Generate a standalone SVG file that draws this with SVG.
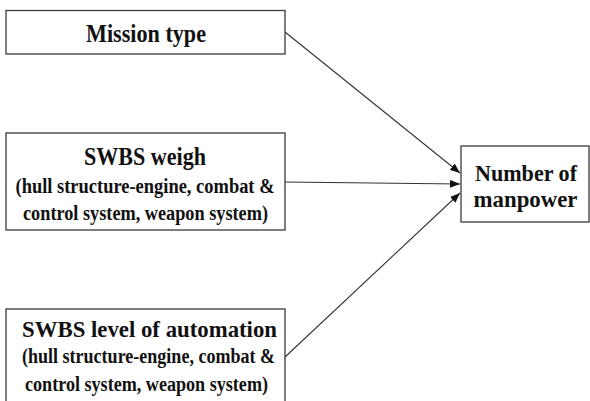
<svg xmlns="http://www.w3.org/2000/svg" width="590" height="401" viewBox="0 0 590 401">
<style>
.box{fill:#fff;stroke:#3a3a3a;stroke-width:1.3}
.t{font-family:"Liberation Serif","Times New Roman",serif;font-weight:bold;fill:#111;text-anchor:middle}
.big{font-size:26px}
.mid{font-size:23px}
.num{font-size:24px}
.sm{font-size:20.5px}
.c{stroke:#333;stroke-width:1.1;fill:none;marker-end:url(#ah)}
</style>
<defs>
<marker id="ah" viewBox="0 0 10 8" refX="10" refY="4" markerWidth="10" markerHeight="8" markerUnits="userSpaceOnUse" orient="auto">
<path d="M0,0 L10,4 L0,8 z" fill="#111"/>
</marker>
</defs>
<rect width="590" height="401" fill="#fff"/>
<g id="connectors">
<line class="c" x1="285" y1="32" x2="460" y2="173"/>
<line class="c" x1="285" y1="182" x2="460" y2="184"/>
<line class="c" x1="285" y1="357" x2="460" y2="193"/>
</g>
<g id="mission">
<rect class="box" x="6" y="10.5" width="279" height="43.5"/>
<text class="t big" x="146" y="42" textLength="120" lengthAdjust="spacingAndGlyphs">Mission type</text>
</g>
<g id="weigh">
<rect class="box" x="6" y="133" width="279" height="97"/>
<text class="t big" x="145" y="165" textLength="122" lengthAdjust="spacingAndGlyphs">SWBS weigh</text>
<text class="t sm" x="145" y="193" textLength="259" lengthAdjust="spacingAndGlyphs">(hull structure-engine, combat &amp;</text>
<text class="t sm" x="145.5" y="220" textLength="245" lengthAdjust="spacingAndGlyphs">control system, weapon system)</text>
</g>
<g id="automation">
<rect class="box" x="6" y="309" width="279" height="95"/>
<text class="t mid" x="149.5" y="337" textLength="255" lengthAdjust="spacingAndGlyphs">SWBS level of automation</text>
<text class="t sm" x="148.5" y="363" textLength="253" lengthAdjust="spacingAndGlyphs">(hull structure-engine, combat &amp;</text>
<text class="t sm" x="146.5" y="391" textLength="243" lengthAdjust="spacingAndGlyphs">control system, weapon system)</text>
</g>
<g id="manpower">
<rect class="box" x="461" y="146" width="128" height="76"/>
<text class="t num" x="526" y="181" textLength="102" lengthAdjust="spacingAndGlyphs">Number of</text>
<text class="t num" x="525.5" y="207" textLength="104" lengthAdjust="spacingAndGlyphs">manpower</text>
</g>
</svg>
